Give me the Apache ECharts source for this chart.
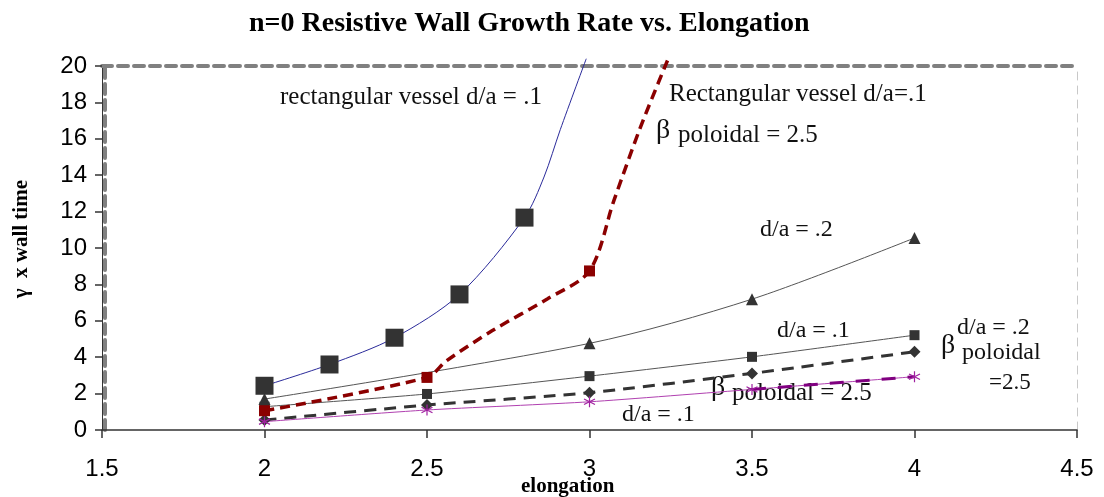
<!DOCTYPE html>
<html>
<head>
<meta charset="utf-8">
<script src="https://cdn.jsdelivr.net/npm/echarts@6/dist/echarts.min.js"></script>
<style>
html,body{margin:0;padding:0;background:#fff;}
#chart{width:1104px;height:497px;}
</style>
</head>
<body>
<div id="chart"></div>
<script>
// ---- data (elongation, gamma x wall time) ----
const xTicks = [1.5, 2, 2.5, 3, 3.5, 4, 4.5];
const yTicks = [0, 2, 4, 6, 8, 10, 12, 14, 16, 18, 20];

// rectangular vessel d/a = .1 (markers) and its curve continuation
const rectVesselMarked = [[2, 2.43], [2.2, 3.6], [2.4, 5.07], [2.6, 7.45], [2.8, 11.67]];
const rectVesselTail = [[2.86, 13.9], [2.91, 16.5], [2.99, 20.4]];

// Rectangular vessel d/a=.1, beta poloidal = 2.5
const rectBetaMarked = [[2, 1.06], [2.5, 2.89], [3, 8.74]];
const rectBetaTail = [[2.56, 3.8], [2.7, 5.45], [2.87, 7.2], [3.075, 12.6], [3.156, 16.6], [3.24, 20.3]];

// d/a = .2 (triangles)
const da2 = [[2, 1.7], [3, 4.76], [3.5, 7.19], [4, 10.55]];
// d/a = .1 (squares)
const da1 = [[2, 1.28], [2.5, 1.98], [3, 2.96], [3.5, 4.02], [4, 5.21]];
// d/a = .2, beta poloidal = 2.5 (diamonds, dashed)
const da2Beta = [[2, 0.55], [2.5, 1.37], [3, 2.05], [3.5, 3.11], [4, 4.3]];
// d/a = .1, beta poloidal = 2.5 (asterisks)
const da1Beta = [[2, 0.46], [2.5, 1.1], [3, 1.55], [3.5, 2.23], [4, 2.93]];
const da1BetaDash = [[3.5, 2.23], [4, 2.93]];

const serif = '"Liberation Serif", "Times New Roman", serif';
const sans = '"Liberation Sans", Arial, sans-serif';
const asterisk = 'path://M5,0 L5,10 M0.7,2.5 L9.3,7.5 M0.7,7.5 L9.3,2.5';

function merged(marked, tail) {
  const pts = marked.map(p => ({ value: p })).concat(tail.map(p => ({ value: p, symbol: 'none' })));
  pts.sort((a, b) => a.value[0] - b.value[0]);
  return pts;
}

function txt(left, top, text, size) {
  return {
    type: 'text', left: left, top: top - size * 0.6,
    style: { text: text, fontFamily: serif, fontSize: size, fill: '#111' }
  };
}

const chart = echarts.init(document.getElementById('chart'));
chart.setOption({
  animation: false,
  backgroundColor: '#fff',
  title: {
    text: 'n=0 Resistive Wall Growth Rate vs. Elongation',
    left: 244, top: 5,
    textStyle: { fontFamily: serif, fontWeight: 'bold', fontSize: 28, color: '#000' }
  },
  grid: { left: 102, right: 27, top: 66, bottom: 67 },
  xAxis: [{
    type: 'value', min: xTicks[0], max: xTicks[xTicks.length - 1], interval: 0.5,
    axisLine: { show: true, onZero: false, lineStyle: { color: '#333', width: 1.5 } },
    axisTick: { show: true, length: 8, lineStyle: { color: '#333', width: 1.5 } },
    axisLabel: { fontFamily: sans, fontSize: 24, color: '#000', margin: 27 },
    splitLine: { show: false }
  }, {
    type: 'value', position: 'top', min: xTicks[0], max: xTicks[xTicks.length - 1],
    axisLine: { show: true, onZero: false, lineStyle: { color: '#808080', width: 4, type: [10, 6] } },
    axisTick: { show: false }, axisLabel: { show: false }, splitLine: { show: false }
  }],
  yAxis: [{
    type: 'value', min: yTicks[0], max: yTicks[yTicks.length - 1], interval: 2,
    axisLine: { show: true, onZero: false, lineStyle: { color: '#333', width: 1 } },
    axisTick: { show: true, length: 7, lineStyle: { color: '#333', width: 1.5 } },
    axisLabel: { fontFamily: sans, fontSize: 24, color: '#000', margin: 15 },
    splitLine: { show: false }
  }, {
    type: 'value', position: 'left', offset: -3, min: yTicks[0], max: yTicks[yTicks.length - 1],
    axisLine: { show: true, onZero: false, lineStyle: { color: '#808080', width: 4, type: [10, 6] } },
    axisTick: { show: false }, axisLabel: { show: false }, splitLine: { show: false }
  }, {
    type: 'value', position: 'right', min: yTicks[0], max: yTicks[yTicks.length - 1],
    axisLine: { show: true, onZero: false, lineStyle: { color: '#c8c8c8', width: 1, type: [8, 6] } },
    axisTick: { show: false }, axisLabel: { show: false }, splitLine: { show: false }
  }],
  series: [{
    name: 'rectangular vessel d/a = .1', type: 'line', smooth: 0.3, clip: false,
    data: merged(rectVesselMarked, rectVesselTail),
    symbol: 'rect', symbolSize: 18, showAllSymbol: true,
    lineStyle: { color: '#2a2a9a', width: 1 },
    itemStyle: { color: '#333' }, z: 5
  }, {
    name: 'Rectangular vessel beta', type: 'line', smooth: 0.3, clip: false,
    data: merged(rectBetaMarked, rectBetaTail),
    symbol: 'rect', symbolSize: 11, showAllSymbol: true,
    lineStyle: { color: '#8b0000', width: 3.5, type: [10, 6] },
    itemStyle: { color: '#8b0000' }, z: 4
  }, {
    name: 'd/a = .2', type: 'line', smooth: 0.3,
    data: da2, symbol: 'triangle', symbolSize: 12,
    lineStyle: { color: '#555', width: 1 }, itemStyle: { color: '#333' }
  }, {
    name: 'd/a = .1', type: 'line', smooth: 0.2,
    data: da1, symbol: 'rect', symbolSize: 10,
    lineStyle: { color: '#555', width: 1 }, itemStyle: { color: '#333' }
  }, {
    name: 'd/a = .2 beta', type: 'line', smooth: 0.2,
    data: da2Beta, symbol: 'diamond', symbolSize: 12,
    lineStyle: { color: '#333', width: 3, type: [12, 8] }, itemStyle: { color: '#333' }
  }, {
    name: 'd/a = .1 beta', type: 'line', smooth: 0.2,
    data: da1Beta, symbol: asterisk, symbolSize: 11,
    lineStyle: { color: '#b040b0', width: 1 },
    itemStyle: { color: 'rgba(0,0,0,0)', borderColor: '#a020a0', borderWidth: 1.2 }
  }, {
    name: 'd/a = .1 beta dash', type: 'line',
    data: da1BetaDash, symbol: 'none',
    lineStyle: { color: '#800080', width: 3, type: [14, 12] }
  }],
  graphic: [
    txt(280, 100, 'rectangular vessel d/a = .1', 25),
    txt(669, 97, 'Rectangular vessel d/a=.1', 25),
    txt(656, 133, 'β', 28),
    txt(678, 138, 'poloidal = 2.5', 25),
    txt(760, 232, 'd/a = .2', 24),
    txt(777, 333, 'd/a = .1', 24),
    txt(957, 330, 'd/a = .2', 24),
    txt(941, 348, 'β', 28),
    txt(962, 355, 'poloidal', 24),
    txt(989, 385, '=2.5', 23),
    txt(711, 390, 'β', 28),
    txt(732, 396, 'poloidal = 2.5', 25),
    txt(622, 417, 'd/a = .1', 24),
    { type: 'text', left: 521, top: 476,
      style: { text: 'elongation', fontFamily: serif, fontWeight: 'bold', fontSize: 21, fill: '#000' } },
    { type: 'text', left: 11, top: 180, rotation: Math.PI / 2,
      style: { text: 'γ  x wall time', fontFamily: serif, fontWeight: 'bold', fontSize: 21, fill: '#000' } }
  ]
});
</script>
</body>
</html>
